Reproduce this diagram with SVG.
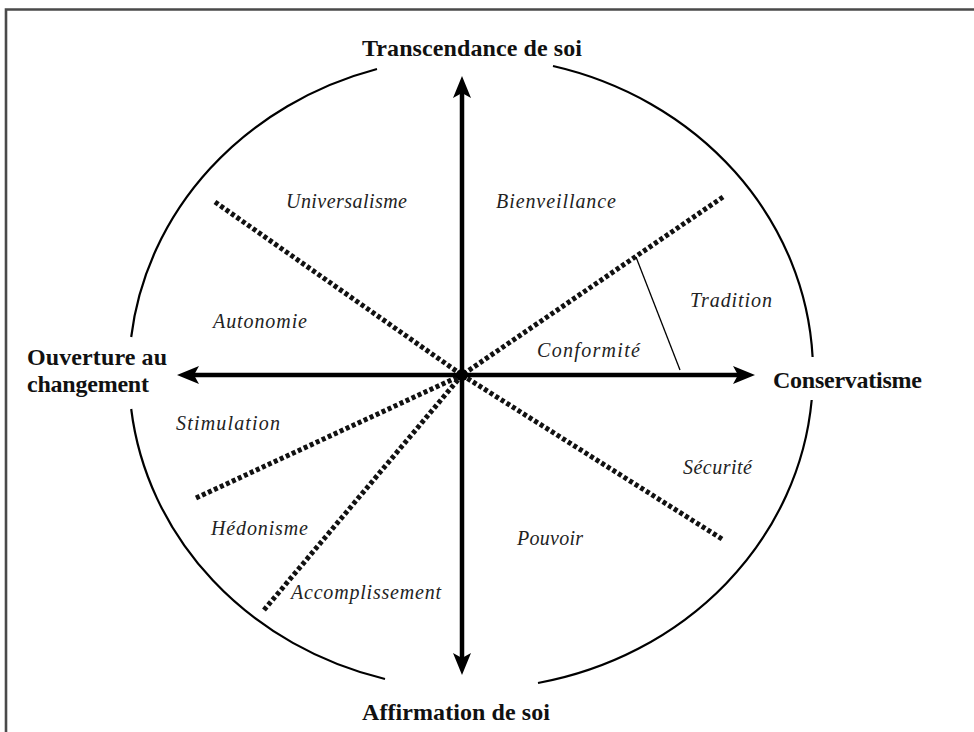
<svg xmlns="http://www.w3.org/2000/svg" width="974" height="732" viewBox="0 0 974 732">
<style>
.axis{stroke:#000;stroke-width:4.5;fill:none}
.div{stroke:#111;stroke-width:5;stroke-dasharray:4 2.6;fill:none}
.arc{stroke:#000;stroke-width:2.2;fill:none}
.lbl{font-family:"Liberation Serif","Times New Roman",serif;font-style:italic;font-size:20px;fill:#222}
.ax{font-family:"Liberation Serif","Times New Roman",serif;font-weight:bold;font-size:24px;fill:#111}
</style>
<defs>
<marker id="ah" viewBox="0 0 22 18" refX="12" refY="9" markerWidth="22" markerHeight="18" markerUnits="userSpaceOnUse" orient="auto-start-reverse">
<path d="M0,0 L22,9 L0,18 L5,9 Z" fill="#000"/>
</marker>
</defs>
<rect width="974" height="732" fill="#fff"/>
<path d="M6,732 V9.5 H974" stroke="#4a4a4a" stroke-width="2.6" fill="none"/>
<g id="circle">
<path class="arc" d="M377,69 A342,316 0 0 0 131.2,337"/>
<path class="arc" d="M131.2,409 A342,316 0 0 0 385,679"/>
<path class="arc" d="M538,683 A342,316 0 0 0 811.7,400"/>
<path class="arc" d="M812.6,357 A342,316 0 0 0 553,66"/>
</g>
<g id="connectors">
<line class="div" x1="215" y1="202" x2="462" y2="375"/>
<line class="div" x1="723" y1="197" x2="462" y2="375"/>
<line class="div" x1="722" y1="539" x2="462" y2="375"/>
<line class="div" x1="196" y1="498" x2="462" y2="375"/>
<line class="div" x1="264" y1="610" x2="462" y2="375"/>
<line x1="636" y1="257" x2="680" y2="370" stroke="#000" stroke-width="1.3"/>
<line class="axis" x1="462" y1="86" x2="462" y2="665" marker-start="url(#ah)" marker-end="url(#ah)"/>
<line class="axis" x1="187" y1="375" x2="745" y2="375" stroke-width="5" marker-start="url(#ah)" marker-end="url(#ah)"/>
<circle cx="462" cy="375" r="6" fill="#000"/>
</g>
<g id="axis-top"><text class="ax" x="362" y="56" textLength="220">Transcendance de soi</text></g>
<g id="axis-bottom"><text class="ax" x="362" y="720" textLength="188">Affirmation de soi</text></g>
<g id="axis-left">
<text class="ax" x="27" y="365" textLength="140">Ouverture au</text>
<text class="ax" x="27" y="392" textLength="122">changement</text>
</g>
<g id="axis-right"><text class="ax" x="773" y="388" textLength="149">Conservatisme</text></g>
<g id="universalisme"><text class="lbl" x="286" y="208" textLength="121">Universalisme</text></g>
<g id="bienveillance"><text class="lbl" x="496" y="208" textLength="120">Bienveillance</text></g>
<g id="tradition"><text class="lbl" x="690" y="307" textLength="82">Tradition</text></g>
<g id="autonomie"><text class="lbl" x="213" y="328" textLength="94">Autonomie</text></g>
<g id="conformite"><text class="lbl" x="537" y="357" textLength="103">Conformité</text></g>
<g id="stimulation"><text class="lbl" x="176" y="430" textLength="104">Stimulation</text></g>
<g id="securite"><text class="lbl" x="683" y="474" textLength="69">Sécurité</text></g>
<g id="hedonisme"><text class="lbl" x="211" y="535" textLength="97">Hédonisme</text></g>
<g id="pouvoir"><text class="lbl" x="517" y="545" textLength="66">Pouvoir</text></g>
<g id="accomplissement"><text class="lbl" x="291" y="599" textLength="150">Accomplissement</text></g>
</svg>
